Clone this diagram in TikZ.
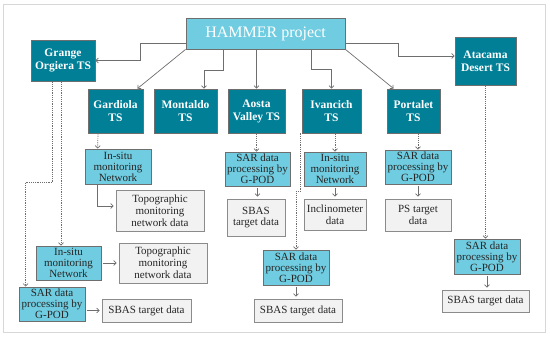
\documentclass[tikz,border=0pt]{standalone}
\usepackage{xcolor}
\usepackage{fontspec}
\setmainfont{Liberation Serif}
\definecolor{hmteal}{RGB}{0,127,151}
\definecolor{hmcyan}{RGB}{112,204,224}
\definecolor{hmpale}{RGB}{242,242,242}
\definecolor{hmgray}{RGB}{110,110,110}
\definecolor{hmframe}{RGB}{215,215,215}
\usetikzlibrary{arrows.meta,positioning,calc}

\tikzset{
  tsbox/.style={draw=hmgray, fill=hmteal, line width=0.8pt, text=white, font=\fontsize{11.5}{13}\selectfont\bfseries, align=center, inner sep=1pt},
  procbox/.style={draw=hmgray, fill=hmcyan, line width=0.8pt, text=black!85, font=\fontsize{11}{11}\selectfont, align=center, inner sep=1pt},
  databox/.style={draw=hmgray!80, fill=hmpale, line width=0.8pt, text=black!85, font=\fontsize{11}{11.8}\selectfont, align=center, inner sep=1pt},
  conn/.style={draw=hmgray, line width=0.7pt, -{Straight Barb[length=2.5pt,width=5pt]}},
  dconn/.style={conn, dash pattern=on 1.2pt off 1pt},
  sconn/.style={conn, shorten <=2pt, shorten >=2pt}
}

\begin{document}
\begin{tikzpicture}[x=1pt, y=-1pt]
  \useasboundingbox (0,0) rectangle (550,339);
  % Frame
  \draw[hmframe, line width=1pt] (3,5) rectangle (545,333);

  % Project box
  \node[draw=hmgray, fill=hmcyan, line width=0.8pt, text=white, font=\fontsize{16}{18}\selectfont, minimum width=159pt, minimum height=31pt] (hammer) at (265.5,33.5) {HAMMER project};

  % Test sites
  \node[tsbox, minimum width=64pt, minimum height=41pt] (grange) at (63,60.5) {Grange\\Orgiera TS};
  \node[tsbox, minimum width=55pt, minimum height=44pt] (gardiola) at (115.5,111) {Gardiola\\TS};
  \node[tsbox, minimum width=63pt, minimum height=44pt] (montaldo) at (185.5,111) {Montaldo\\TS};
  \node[tsbox, minimum width=57pt, minimum height=44pt] (aosta) at (256.5,111) {Aosta\\Valley TS};
  \node[tsbox, minimum width=59pt, minimum height=44pt] (ivancich) at (331.5,111) {Ivancich\\TS};
  \node[tsbox, minimum width=53pt, minimum height=44pt] (portalet) at (413.5,111) {Portalet\\TS};
  \node[tsbox, minimum width=61pt, minimum height=48pt] (atacama) at (485.5,61) {Atacama\\Desert TS};

  % Gardiola
  \node[procbox, minimum width=66pt, minimum height=35pt] (gInsitu) at (118,166.5) {In-situ\\monitoring\\Network};
  \node[databox, minimum width=88pt, minimum height=41pt] (gTopo) at (160,210.5) {Topographic\\monitoring\\network data};

  % Grange Orgiera
  \node[procbox, minimum width=65pt, minimum height=34pt] (oInsitu) at (68.5,263) {In-situ\\monitoring\\Network};
  \node[databox, minimum width=88pt, minimum height=40pt] (oTopo) at (163,263) {Topographic\\monitoring\\network data};
  \node[procbox, minimum width=66pt, minimum height=34pt] (oSar) at (52,304) {SAR data\\processing by\\G-POD};
  \node[databox, minimum width=89pt, minimum height=23pt] (oSbas) at (146.5,310.5) {SBAS target data};

  % Aosta Valley
  \node[procbox, minimum width=65pt, minimum height=34pt] (aSar) at (257.5,169) {SAR data\\processing by\\G-POD};
  \node[databox, minimum width=58pt, minimum height=37pt] (aSbas) at (256,217.5) {SBAS\\target data};

  % Ivancich
  \node[procbox, minimum width=62pt, minimum height=34pt] (iInsitu) at (335,169) {In-situ\\monitoring\\Network};
  \node[databox, minimum width=62pt, minimum height=31pt] (iIncl) at (335,214.5) {Inclinometer\\data};
  \node[procbox, minimum width=66pt, minimum height=35pt] (iSar) at (296,267.5) {SAR data\\processing by\\G-POD};
  \node[databox, minimum width=88pt, minimum height=23pt] (iSbas) at (298,310.5) {SBAS target data};

  % Portalet
  \node[procbox, minimum width=66pt, minimum height=34pt] (pSar) at (418,167) {SAR data\\processing by\\G-POD};
  \node[databox, minimum width=66pt, minimum height=32pt] (pPs) at (418,215) {PS target\\data};

  % Atacama Desert
  \node[procbox, minimum width=66pt, minimum height=35pt] (tSar) at (487,256.5) {SAR data\\processing by\\G-POD};
  \node[databox, minimum width=87pt, minimum height=22pt] (tSbas) at (485.5,301) {SBAS target data};

  % Project to test sites
  \draw[conn] ([yshift=-9.5pt]hammer.west) -- (140,43) |- (grange.east);
  \draw[conn] (hammer.south west) -- ([xshift=-6pt]gardiola.north east);
  \draw[conn] ([xshift=-42.5pt]hammer.south) -- ++(0,21) -| ([xshift=18.5pt]montaldo.north);
  \draw[conn] (aosta.north |- hammer.south) -- (aosta.north);
  \draw[conn] ([xshift=45.5pt]hammer.south) -- ++(0,20) -| (ivancich.north);
  \draw[conn] (hammer.south east) -- ([xshift=7pt]portalet.north west);
  \draw[conn] ([yshift=-9.5pt]hammer.east) -- (398,43) |- ([yshift=5pt]atacama.west);

  % Grange Orgiera chain
  \draw[dconn] ([xshift=-11pt]grange.south) -- ++(0,101) -| ([xshift=7pt]oSar.north west);
  \draw[dconn] ([xshift=-2pt]grange.south) -- ([xshift=-7.5pt]oInsitu.north);
  \draw[sconn] (oInsitu.east) -- (oTopo.west);
  \draw[sconn] (oSar.east |- oSbas.west) -- (oSbas.west);

  % Gardiola chain
  \draw[dconn] ([xshift=-17.5pt]gardiola.south) -- ([xshift=13pt]gInsitu.north west);
  \draw[conn, shorten >=2pt] ([xshift=13pt]gInsitu.south west) |- ([yshift=4.5pt]gTopo.west);

  % Aosta Valley chain
  \draw[dconn] (aosta.south) -- (aosta.south |- aSar.north);
  \draw[sconn] (aSar.south) -- (aSar.south |- aSbas.north);

  % Ivancich chain
  \draw[dconn] (iInsitu.north |- ivancich.south) -- (iInsitu.north);
  \draw[sconn] (iInsitu.south) -- (iIncl.north);
  \draw[dconn] ([xshift=-1pt]ivancich.south west) -- ++(0,58) -| (iSar.north);
  \draw[sconn] (iSar.south) -- (iSar.south |- iSbas.north);

  % Portalet chain
  \draw[dconn] (pSar.north |- portalet.south) -- (pSar.north);
  \draw[sconn] (pSar.south) -- (pPs.north);

  % Atacama Desert chain
  \draw[dconn] (atacama.south) -- (atacama.south |- tSar.north);
  \draw[sconn] (tSar.south) -- (tSar.south |- tSbas.north);
\end{tikzpicture}
\end{document}
